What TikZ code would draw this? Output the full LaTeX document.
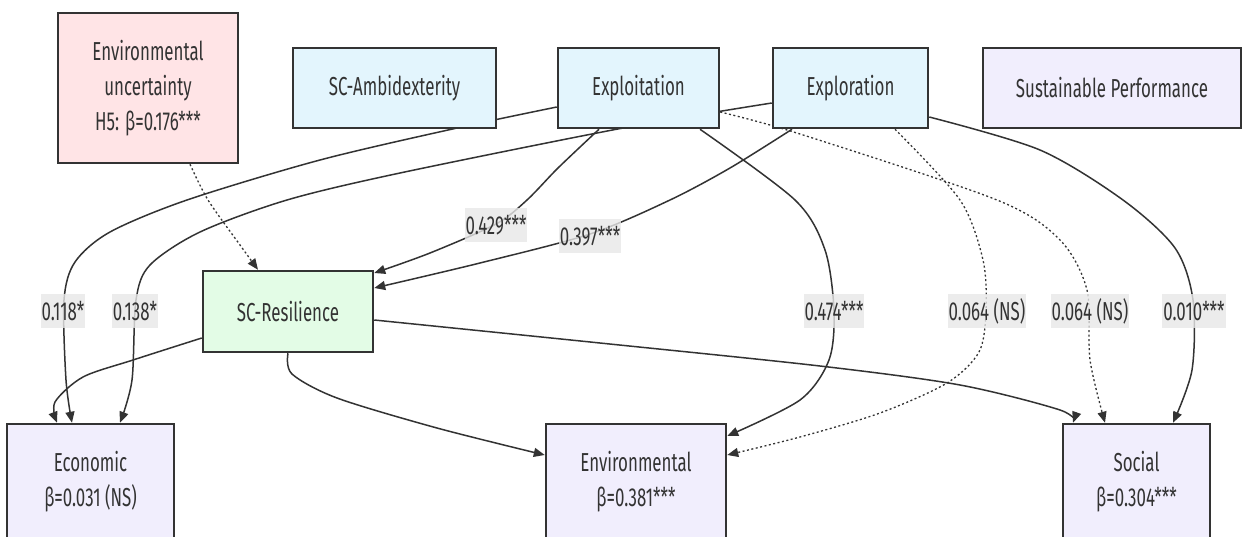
\documentclass[tikz,border=0pt]{standalone}
\usepackage{fontspec}
\setmainfont{Fira Sans}[FakeStretch=0.65]
\usetikzlibrary{arrows.meta}
\definecolor{txt}{HTML}{333333}
\definecolor{pinkf}{HTML}{FFE4E6}
\definecolor{bluef}{HTML}{E3F5FD}
\definecolor{greenf}{HTML}{E3FCE6}
\definecolor{lavf}{HTML}{F1EEFD}
\definecolor{lblgray}{HTML}{E8E8E8}
\pgfdeclarelayer{background}
\pgfsetlayers{background,main}
\begin{document}
\begin{tikzpicture}[x=1pt,y=-1pt,
  font=\fontsize{26}{35}\selectfont,
  box/.style={draw=txt, line width=2.5pt, text=txt, align=center, inner sep=0pt},
  conn/.style={draw=txt, line width=1.5pt, -{Triangle[length=11pt,width=9pt]}},
  dconn/.style={conn, line width=1.3pt, dash pattern=on 2pt off 2.5pt},
  lbl/.style={fill=lblgray, fill opacity=0.8, text opacity=1, text=txt, inner xsep=1pt, inner ysep=0pt, minimum height=34pt}
]
\useasboundingbox (0,0) rectangle (1242,536);

\node[box, fill=pinkf, minimum width=180pt, minimum height=150pt] (envu) at (148,88) {Environmental\\uncertainty\\H5: β=0.176***};
\node[box, fill=bluef, minimum width=203pt, minimum height=80pt] (ambi) at (394.5,88) {SC-Ambidexterity};
\node[box, fill=bluef, minimum width=161pt, minimum height=80pt] (exploit) at (638.5,88) {Exploitation};
\node[box, fill=bluef, minimum width=155pt, minimum height=80pt] (explore) at (850.5,88) {Exploration};
\node[box, fill=lavf, minimum width=258pt, minimum height=80pt] (sustain) at (1112,88) {Sustainable Performance};
\node[box, fill=greenf, minimum width=170pt, minimum height=81pt] (resil) at (288,311.5) {SC-Resilience};
\node[box, fill=lavf, minimum width=167pt, minimum height=116pt] (econ) at (90.5,482) {Economic\\β=0.031 (NS)};
\node[box, fill=lavf, minimum width=180pt, minimum height=116pt] (envp) at (636,482) {Environmental\\β=0.381***};
\node[box, fill=lavf, minimum width=147pt, minimum height=116pt] (social) at (1136.5,482) {Social\\β=0.304***};

\begin{pgfonlayer}{background}
\fill[white] (0,0) rectangle (1242,536);
\draw[dconn] plot[smooth] coordinates {([xshift=42pt]envu.south) (208,200) (240,245) ([xshift=-30pt]resil.north)};
\draw[conn] plot[smooth] coordinates {([xshift=-39.5pt]exploit.south) (558,168) (527,200) (496,224) (430,253) ([yshift=38.5pt]resil.east)};
\draw[conn] plot[smooth] coordinates {([xshift=-58.5pt]explore.south) (730,168) (670,200) (590,234) (480,263) ([yshift=23.5pt]resil.east)};
\draw[conn] plot[smooth] coordinates {([yshift=-19pt]exploit.west) (457,128) (320,160) (187,200) (110,232) (75,262) (64,300) (66,380) ([xshift=-18.5pt]econ.north)};
\draw[conn] plot[smooth] coordinates {([yshift=-15pt]explore.west) (623,128) (400,173) (287,200) (200,232) (150,265) (136,300) (132,380) ([xshift=29.5pt]econ.north)};
\draw[conn] plot[smooth] coordinates {([xshift=61.5pt]exploit.south) (795,200) (825,250) (834,311) (829,360) (800,400) ([yshift=46pt]envp.east)};
\draw[dconn] plot[smooth] coordinates {([yshift=-24pt]exploit.east) (800,134) (997,200) (1060,240) (1087,290) (1090,360) ([xshift=-31.5pt]social.north)};
\draw[dconn] plot[smooth] coordinates {([xshift=44.5pt]explore.south) (960,200) (983,260) (986,311) (979,352) (947,383) (880,413) (800,437) ([yshift=27pt]envp.east)};
\draw[conn] plot[smooth] coordinates {([yshift=-29pt]explore.east) (1040,150) (1123,200) (1175,248) (1193,300) (1192,370) ([xshift=36.5pt]social.north)};
\draw[conn] plot[smooth] coordinates {(resil.south) (292,374) (337,398) (437,428) ([yshift=27pt]envp.west)};
\draw[conn] plot[smooth] coordinates {([yshift=-26.5pt]resil.west) (133,360) (83,377) (55,402) ([xshift=-33.5pt]econ.north)};
\draw[conn] plot[smooth] coordinates {([yshift=-8.5pt]resil.east) (600,343) (820,366) (960,385) (1060,410) ([xshift=-63.5pt]social.north)};
\end{pgfonlayer}

\node[lbl] (l118) at (63,311) {0.118*};
\node[lbl] (l138) at (135,311) {0.138*};
\node[lbl] (l429) at (496,225) {0.429***};
\node[lbl] (l397) at (590,236) {0.397***};
\node[lbl] (l474) at (834,311) {0.474***};
\node[lbl] (l064a) at (987,311) {0.064 (NS)};
\node[lbl] (l064b) at (1090,311) {0.064 (NS)};
\node[lbl] (l010) at (1194,311) {0.010***};
\end{tikzpicture}
\end{document}
